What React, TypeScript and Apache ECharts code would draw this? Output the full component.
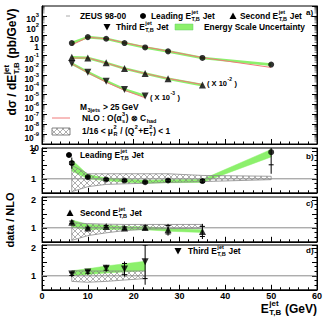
import React, { useEffect, useRef } from 'react';
import * as echarts from 'echarts';

const FONT = '"Liberation Sans", Arial, Helvetica, sans-serif';
const GREEN = '#8cf06c';
const RED = '#f07a7a';
const HATCH = '#777777';

// ---------- data ----------
const leadX = [6.5, 10, 14, 18, 22.5, 27.5, 35, 50];
const secondX = [6.5, 10, 14, 18, 22.5, 27.5, 35];
const thirdX = [6.5, 10, 14, 18, 22.5];

// cross sections (pb/GeV), true values; second/third drawn scaled
const leadXsec = [1.75, 7.0, 4.75, 1.75, 0.63, 0.25, 0.054, 0.0114];
const leadNLO = [1.12, 6.6, 4.87, 1.86, 0.716, 0.266, 0.0587, 0.00585];
const secondXsec = [6.2, 5.4, 1.7, 0.45, 0.142, 0.0415, 0.0094];
const secondNLO = [5.17, 5.45, 1.62, 0.455, 0.141, 0.0446, 0.0108];
const thirdXsec = [14.4, 1.92, 0.238, 0.0347, 0.00735];
const thirdNLO = [13.6, 1.68, 0.187, 0.028, 0.0049];
const secondScale = 1e-2;
const thirdScale = 1e-3;

// ratio data / NLO
const leadRatio = [1.56, 1.06, 0.975, 0.94, 0.88, 0.94, 0.92, 1.95];
const leadStat = [0.05, 0.03, 0.03, 0.03, 0.03, 0.04, 0.05, 0.45];
const leadTot = [0.2, 0.06, 0.05, 0.05, 0.06, 0.07, 0.08, 0.77];
const leadEsLo = [1.28, 1.0, 0.93, 0.88, 0.84, 0.86, 0.87, 1.78];
const leadEsHi = [1.68, 1.15, 1.03, 0.99, 0.95, 0.97, 0.98, 2.05];
const leadMuLo = [0.54, 0.72, 0.8, 0.82, 0.84, 0.87, 0.9, 0.97];
const leadMuHi = [1.48, 1.18, 1.18, 1.18, 1.18, 1.18, 1.12, 1.09];

const secondRatio = [1.2, 0.99, 1.05, 0.99, 1.01, 0.93, 0.87];
const secondStat = [0.04, 0.03, 0.03, 0.04, 0.06, 0.15, 0.18];
const secondTot = [0.08, 0.05, 0.05, 0.07, 0.1, 0.21, 0.27];
const secondEsLo = [1.03, 0.93, 0.95, 0.93, 0.93, 0.88, 0.83];
const secondEsHi = [1.28, 1.12, 1.1, 1.05, 1.04, 0.98, 0.93];
const secondMuLo = [0.55, 0.72, 0.82, 0.9, 0.95, 0.97, 0.98];
const secondMuHi = [1.18, 1.15, 1.13, 1.12, 1.12, 1.12, 1.12];

const thirdRatio = [1.06, 1.14, 1.27, 1.24, 1.5];
const thirdStat = [0.05, 0.05, 0.07, 0.2, 0.6];
const thirdTot = [0.08, 0.08, 0.12, 0.27, 0.82];
const thirdEsLo = [1.0, 1.05, 1.1, 1.14, 1.18];
const thirdEsHi = [1.18, 1.25, 1.35, 1.43, 1.52];
const thirdMuLo = [0.8, 0.77, 0.8, 0.85, 0.9];
const thirdMuHi = [1.18, 1.17, 1.17, 1.17, 1.17];

const refLine = [[0, 1], [60, 1]];

// ---------- helpers ----------
let measureCtx: CanvasRenderingContext2D | null = null;
function textWidth(s: string, size: number) {
  if (!measureCtx && typeof document !== 'undefined') {
    measureCtx = document.createElement('canvas').getContext('2d');
  }
  if (!measureCtx) return s.length * size * 0.55;
  measureCtx.font = `bold ${size}px ${FONT}`;
  return measureCtx.measureText(s).width;
}

type Piece = string | { sup?: string; sub?: string };

function mathText(pieces: Piece[], size: number, x: number, y: number, align: 'left' | 'right' | 'center' = 'left', rotation = 0) {
  const small = size * 0.66;
  const kids: any[] = [];
  let cx = 0;
  const mk = (t: string, px: number, py: number, s: number) => ({
    type: 'text', x: px, y: py, silent: true,
    style: { text: t, font: `bold ${s}px ${FONT}`, fill: '#000', textAlign: 'left', textVerticalAlign: 'middle', align: 'left', verticalAlign: 'middle' },
  });
  for (const p of pieces) {
    if (typeof p === 'string') {
      kids.push(mk(p, cx, 0, size));
      cx += textWidth(p, size);
    } else {
      let w = 0;
      if (p.sup) { kids.push(mk(p.sup, cx + 0.5, -size * 0.42, small)); w = Math.max(w, textWidth(p.sup, small)); }
      if (p.sub) { kids.push(mk(p.sub, cx + 0.5, size * 0.34, small)); w = Math.max(w, textWidth(p.sub, small)); }
      cx += w + 1;
    }
  }
  const off = align === 'left' ? 0 : align === 'right' ? -cx : -cx / 2;
  kids.forEach((k) => { k.x += off; });
  return { type: 'group', x, y, rotation, children: kids, silent: true, z: 20 };
}

function interp(arr: number[][], x: number) {
  for (let i = 0; i < arr.length - 1; i++) {
    if (x >= arr[i][0] - 1e-6 && x <= arr[i + 1][0] + 1e-6) {
      const dx = arr[i + 1][0] - arr[i][0];
      const t = dx === 0 ? 0 : (x - arr[i][0]) / dx;
      return arr[i][1] + t * (arr[i + 1][1] - arr[i][1]);
    }
  }
  return NaN;
}

function hatchSegments(up: number[][], dn: number[][], sp: number) {
  const segs: number[][] = [];
  const x0 = up[0][0];
  const x1 = up[up.length - 1][0];
  const ys = [...up, ...dn].map((p) => p[1]);
  const ymin = Math.min(...ys);
  const ymax = Math.max(...ys);
  for (const d of [1, -1]) {
    const ks = [ymin - d * x0, ymin - d * x1, ymax - d * x0, ymax - d * x1];
    const kmin = Math.min(...ks);
    const kmax = Math.max(...ks);
    for (let k = Math.floor(kmin / sp) * sp; k <= kmax; k += sp) {
      let start: number[] | null = null;
      let prev: number[] | null = null;
      for (let x = x0; x <= x1 + 1e-6; x += 0.25) {
        const y = k + d * x;
        const inside = y >= interp(up, x) - 1e-6 && y <= interp(dn, x) + 1e-6;
        if (inside) {
          if (!start) start = [x, y];
          prev = [x, y];
        } else if (start && prev) {
          if (start[0] !== prev[0]) segs.push([start[0], start[1], prev[0], prev[1]]);
          start = null;
        }
      }
      if (start && prev && start[0] !== prev[0]) segs.push([start[0], start[1], prev[0], prev[1]]);
    }
  }
  return segs;
}

function bandSeries(gi: number, xs: number[], lo: number[], hi: number[], kind: 'fill' | 'hatch') {
  return {
    type: 'custom', xAxisIndex: gi, yAxisIndex: 2 * gi, coordinateSystem: 'cartesian2d',
    data: [[xs[0], lo[0]]], silent: true, z: kind === 'fill' ? 1 : 2, clip: true,
    renderItem: (params: any, api: any) => {
      if (params.dataIndex !== 0) return null;
      const up = xs.map((x, i) => api.coord([x, hi[i]]));
      const dn = xs.map((x, i) => api.coord([x, lo[i]]));
      const poly = [...up, ...dn.slice().reverse()];
      if (kind === 'fill') {
        return { type: 'polygon', shape: { points: poly }, style: { fill: GREEN, stroke: GREEN, lineWidth: 0.5 } };
      }
      const segs = hatchSegments(up, dn, 6);
      const kids: any[] = segs.map((s) => ({ type: 'line', shape: { x1: s[0], y1: s[1], x2: s[2], y2: s[3] }, style: { stroke: HATCH, lineWidth: 0.6 } }));
      kids.push({ type: 'polygon', shape: { points: poly }, style: { fill: 'none', stroke: '#888', lineWidth: 0.8 } });
      return { type: 'group', children: kids };
    },
  };
}

function errSeries(gi: number, xs: number[], ys: number[], st: number[], tot: number[]) {
  return {
    type: 'custom', xAxisIndex: gi, yAxisIndex: 2 * gi, coordinateSystem: 'cartesian2d',
    data: xs.map((x, i) => [x, ys[i], st[i], tot[i]]), silent: true, z: 4, clip: true,
    encode: { x: 0, y: 1 },
    renderItem: (params: any, api: any) => {
      const x = api.value(0), y = api.value(1), s = api.value(2), t = api.value(3);
      const top = api.coord([x, y + t]);
      const bot = api.coord([x, y - t]);
      const s1 = api.coord([x, y + s]);
      const s2 = api.coord([x, y - s]);
      const w = 2.5;
      const st = { stroke: '#000', lineWidth: 1 };
      return {
        type: 'group', children: [
          { type: 'line', shape: { x1: top[0], y1: top[1], x2: bot[0], y2: bot[1] }, style: st },
          { type: 'line', shape: { x1: s1[0] - w, y1: s1[1], x2: s1[0] + w, y2: s1[1] }, style: st },
          { type: 'line', shape: { x1: s2[0] - w, y1: s2[1], x2: s2[0] + w, y2: s2[1] }, style: st },
        ],
      };
    },
  };
}

function ptsSeries(gi: number, yi: number, xs: number[], ys: number[], scale: number, symbol: string, size: number, rotate: number) {
  return {
    type: 'scatter', xAxisIndex: gi, yAxisIndex: yi, data: xs.map((x, i) => [x, ys[i] * scale]),
    symbol, symbolSize: size, symbolRotate: rotate, itemStyle: { color: '#000' }, z: 5, silent: true,
  };
}

function topLine(xs: number[], ys: number[], scale: number, color: string, width: number, z: number) {
  return {
    type: 'line', xAxisIndex: 0, yAxisIndex: 0, data: xs.map((x, i) => [x, ys[i] * scale]),
    symbol: 'none', lineStyle: { color, width }, z, silent: true,
  };
}

const logMinorSeries = {
  type: 'custom', xAxisIndex: 0, yAxisIndex: 0, coordinateSystem: 'cartesian2d', data: [[0, 1]], silent: true, z: 6,
  renderItem: (params: any, api: any) => {
    if (params.dataIndex !== 0) return null;
    const kids: any[] = [];
    for (let n = -10; n < 4; n++) {
      for (let k = 2; k <= 9; k++) {
        const v = k * Math.pow(10, n);
        const l = api.coord([0, v]);
        const r = api.coord([60, v]);
        kids.push({ type: 'line', shape: { x1: l[0], y1: l[1], x2: l[0] + 2.5, y2: l[1] }, style: { stroke: '#000', lineWidth: 0.5 } });
        kids.push({ type: 'line', shape: { x1: r[0] - 2.5, y1: r[1], x2: r[0], y2: r[1] }, style: { stroke: '#000', lineWidth: 0.5 } });
      }
    }
    return { type: 'group', children: kids };
  },
};

function buildOption() {
  const gridTops = [6, 148, 197, 245];
  const gridHeights = [138, 44.8, 44.8, 44.8];
  const grids = gridTops.map((t, i) => ({
    left: 42, right: 13, top: t, height: gridHeights[i], show: true, borderColor: '#000', borderWidth: 1, backgroundColor: 'transparent',
  }));
  const tickStyle = { color: '#000', width: 1 };
  const xAxes = [0, 1, 2, 3].map((i) => ({
    type: 'value', gridIndex: i, min: 0, max: 60, interval: 10,
    axisLine: { show: true, lineStyle: tickStyle },
    axisTick: { show: true, inside: true, length: 5, lineStyle: tickStyle },
    minorTick: { show: true, splitNumber: 5, length: 2.5, lineStyle: tickStyle },
    splitLine: { show: false }, minorSplitLine: { show: false },
    axisLabel: { show: i === 3, color: '#000', fontFamily: FONT, fontWeight: 'bold', fontSize: 9, margin: 2 },
  }));
  const logAxis = (pos: 'left' | 'right') => ({
    type: 'log', gridIndex: 0, logBase: 10, min: 1e-10, max: 1e4, interval: 1, position: pos,
    axisLine: { show: true, lineStyle: tickStyle },
    axisTick: { show: true, inside: true, length: 5, lineStyle: tickStyle },
    splitLine: { show: false },
    axisLabel: {
      show: pos === 'left', margin: 3,
      formatter: (v: number) => {
        const n = Math.round(Math.log10(v));
        if (n === 0) return '{o|1}';
        if (n === 1 || n === -10) return '{b|10}';
        return `{b|10}{e|${n}}`;
      },
      rich: {
        b: { fontSize: 8.5, fontWeight: 'bold', fontFamily: FONT, color: '#000', padding: [7, 0, 0, 0] },
        o: { fontSize: 8.5, fontWeight: 'bold', fontFamily: FONT, color: '#000', padding: [3, 0, 0, 0] },
        e: { fontSize: 5.8, fontWeight: 'bold', fontFamily: FONT, color: '#000', padding: [0, 0, 1, 0] },
      },
    },
  });
  const ratioAxis = (gi: number, pos: 'left' | 'right') => ({
    type: 'value', gridIndex: gi, min: 0.5, max: 2.1, interval: 0.5, position: pos,
    axisLine: { show: true, lineStyle: tickStyle },
    axisTick: { show: true, inside: true, length: 5, lineStyle: tickStyle },
    minorTick: { show: true, splitNumber: 3, length: 2.5, lineStyle: tickStyle },
    splitLine: { show: false }, minorSplitLine: { show: false },
    axisLabel: {
      show: pos === 'left', margin: 6, color: '#000', fontFamily: FONT, fontWeight: 'bold', fontSize: 9,
      formatter: (v: number) => (Math.abs(v - 1) < 1e-9 || Math.abs(v - 2) < 1e-9 ? String(Math.round(v)) : ''),
    },
  });
  const yAxes = [
    logAxis('left'), logAxis('right'),
    ratioAxis(1, 'left'), ratioAxis(1, 'right'),
    ratioAxis(2, 'left'), ratioAxis(2, 'right'),
    ratioAxis(3, 'left'), ratioAxis(3, 'right'),
  ];

  const refSeries = (gi: number) => ({
    type: 'line', xAxisIndex: gi, yAxisIndex: 2 * gi, data: refLine, symbol: 'none',
    lineStyle: { color: '#8a8a8a', width: 1 }, z: 3, silent: true,
  });

  const series: any[] = [
    // top panel
    topLine(leadX, leadXsec, 1, GREEN, 2.6, 2),
    topLine(secondX, secondXsec, secondScale, GREEN, 2.6, 2),
    topLine(thirdX, thirdXsec, thirdScale, GREEN, 2.6, 2),
    topLine(leadX, leadNLO, 1, RED, 1, 3),
    topLine(secondX, secondNLO, secondScale, RED, 1, 3),
    topLine(thirdX, thirdNLO, thirdScale, RED, 1, 3),
    ptsSeries(0, 0, leadX, leadXsec, 1, 'circle', 6, 0),
    ptsSeries(0, 0, secondX, secondXsec, secondScale, 'triangle', 7, 0),
    ptsSeries(0, 0, thirdX, thirdXsec, thirdScale, 'triangle', 7, 180),
    logMinorSeries,
    // panel b
    bandSeries(1, leadX, leadEsLo, leadEsHi, 'fill'),
    bandSeries(1, leadX, leadMuLo, leadMuHi, 'hatch'),
    refSeries(1),
    errSeries(1, leadX, leadRatio, leadStat, leadTot),
    ptsSeries(1, 2, leadX, leadRatio, 1, 'circle', 6, 0),
    // panel c
    bandSeries(2, secondX, secondEsLo, secondEsHi, 'fill'),
    bandSeries(2, secondX, secondMuLo, secondMuHi, 'hatch'),
    refSeries(2),
    errSeries(2, secondX, secondRatio, secondStat, secondTot),
    ptsSeries(2, 4, secondX, secondRatio, 1, 'triangle', 7, 0),
    // panel d
    bandSeries(3, thirdX, thirdEsLo, thirdEsHi, 'fill'),
    bandSeries(3, thirdX, thirdMuLo, thirdMuHi, 'hatch'),
    refSeries(3),
    errSeries(3, thirdX, thirdRatio, thirdStat, thirdTot),
    ptsSeries(3, 6, thirdX, thirdRatio, 1, 'triangle', 7, 180),
  ];

  const LS = 8.4;
  const jetLabel = (name: string): Piece[] => [name + ' E', { sup: 'jet', sub: 'T,B' }, ' Jet'];
  const tri = (cx: number, cy: number, down: boolean) => ({
    type: 'polygon', z: 20, silent: true,
    shape: { points: down ? [[cx - 3.5, cy - 3], [cx + 3.5, cy - 3], [cx, cy + 3.5]] : [[cx, cy - 3.5], [cx - 3.5, cy + 3], [cx + 3.5, cy + 3]] },
    style: { fill: '#000' },
  });
  const boxSegs = hatchSegments([[52, 128], [70, 128]], [[52, 135], [70, 135]], 6);
  const graphics: any[] = [
    // top legend
    { type: 'line', z: 20, shape: { x1: 66, y1: 16, x2: 70, y2: 16 }, style: { stroke: '#aaa', lineWidth: 1 } },
    mathText(['ZEUS 98-00'], LS, 80, 16),
    { type: 'circle', z: 20, shape: { cx: 143, cy: 16, r: 3 }, style: { fill: '#000' } },
    mathText(jetLabel('Leading'), LS, 151, 16),
    tri(233, 16, false),
    mathText(jetLabel('Second'), LS, 240, 16),
    tri(107, 27, true),
    mathText(jetLabel('Third'), LS, 116, 27),
    { type: 'rect', z: 20, shape: { x: 175, y: 24, width: 18, height: 6 }, style: { fill: GREEN, stroke: '#6c6', lineWidth: 0.5 } },
    mathText(['Energy Scale Uncertainty'], LS, 204, 27),
    mathText(['a)'], 8, 306, 12),
    mathText(['( X 10', { sup: '-2' }, ' )'], 7.5, 207, 83),
    mathText(['( X 10', { sup: '-3' }, ' )'], 7.5, 150, 97),
    mathText(['M', { sub: '3jets' }, ' > 25 GeV'], LS, 80, 107),
    { type: 'line', z: 20, shape: { x1: 52, y1: 118, x2: 70, y2: 118 }, style: { stroke: RED, lineWidth: 1 } },
    mathText(['NLO : O(\u03b1', { sub: 's', sup: '3' }, ') \u2297 C', { sub: 'had' }], LS, 82, 118),
    { type: 'rect', z: 20, shape: { x: 52, y: 128, width: 18, height: 7 }, style: { fill: 'none', stroke: '#666', lineWidth: 0.8 } },
    ...boxSegs.map((s) => ({ type: 'line', z: 20, shape: { x1: s[0], y1: s[1], x2: s[2], y2: s[3] }, style: { stroke: HATCH, lineWidth: 0.6 } })),
    mathText(['1/16 < \u03bc', { sup: '2', sub: 'R' }, ' / (Q', { sup: '2' }, '+E', { sup: '2', sub: 'T' }, ') < 1'], LS, 82, 131),
    // panel legends
    { type: 'circle', z: 20, shape: { cx: 69, cy: 155, r: 3 }, style: { fill: '#000' } },
    mathText(jetLabel('Leading'), LS, 80, 155),
    mathText(['b)'], 8, 306, 156),
    tri(70, 213, false),
    mathText(jetLabel('Second'), LS, 80, 213),
    mathText(['c)'], 8, 306, 203),
    tri(178, 251, true),
    mathText(jetLabel('Third'), LS, 188, 251),
    mathText(['d)'], 8, 306, 250),
    // axis titles
    mathText(['d\u03c3 / dE', { sup: 'jet', sub: 'T,B' }, ' (pb/GeV)'], 12, 12, 62, 'center', Math.PI / 2),
    mathText(['data / NLO'], 11, 10, 220, 'center', Math.PI / 2),
    mathText(['E', { sup: 'jet', sub: 'T,B' }, ' (GeV)'], 12, 317, 308.5, 'right'),
  ];

  return {
    animation: false,
    backgroundColor: '#ffffff',
    grid: grids,
    xAxis: xAxes,
    yAxis: yAxes,
    series,
    graphic: { elements: graphics },
  };
}

export default function App() {
  const ref = useRef<HTMLDivElement>(null);
  useEffect(() => {
    if (!ref.current) return;
    const chart = echarts.init(ref.current, undefined, { renderer: 'svg' });
    chart.setOption(buildOption() as any);
    return () => chart.dispose();
  }, []);
  return <div ref={ref} style={{ position: 'fixed', left: 0, top: 0, width: 330, height: 317, background: '#fff' }} />;
}
